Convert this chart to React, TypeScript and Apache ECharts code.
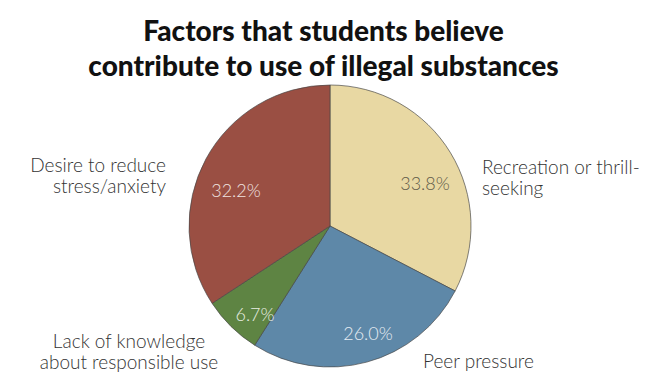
import React, { useEffect, useRef } from "react";
import * as echarts from "echarts";

const TITLE = "Factors that students believe\ncontribute to use of illegal substances";
const categories = [
  "Recreation or thrill-\nseeking",
  "Peer pressure",
  "Lack of knowledge\nabout responsible use",
  "Desire to reduce\nstress/anxiety",
];
// wedge sizes as drawn in the picture
const shares = [32.2, 26.0, 6.7, 33.8];
// percentages as printed on the wedges
const percentLabels = ["33.8%", "26.0%", "6.7%", "32.2%"];
const colors = ["#E8D8A3", "#5E88A8", "#5E8443", "#9A4F43"];
const percentColors = ["#5f5a48", "#e6ecf2", "#e8eee2", "#f0e4e0"];

const NAME_POS: [number, number, string][] = [
  [482, 177, "left"],
  [423, 360, "left"],
  [129, 351, "center"],
  [166, 175, "right"],
];
const PCT_POS: [number, number][] = [
  [425, 183],
  [368, 333],
  [255, 314],
  [236, 190],
];

export default function App() {
  const ref = useRef<HTMLDivElement>(null);
  useEffect(() => {
    document.body.style.margin = "0";
    const chart = echarts.init(ref.current!, undefined, { renderer: "svg" });
    const font = "Lato, 'Open Sans', sans-serif";
    chart.setOption({
      animation: false,
      backgroundColor: "#ffffff",
      title: {
        text: TITLE,
        left: "center",
        top: 7,
        textStyle: {
          fontFamily: font,
          fontSize: 28,
          fontWeight: 900,
          lineHeight: 35,
          color: "#111",
        },
      },
      series: [
        {
          type: "pie",
          center: [330, 226],
          radius: [0, 141],
          startAngle: 90,
          clockwise: true,
          silent: true,
          itemStyle: { borderColor: "rgba(70,70,70,0.85)", borderWidth: 0.8 },
          label: {
            show: true,
            position: "outside",
            fontFamily: font,
            fontSize: 19,
            fontWeight: 300,
            lineHeight: 21,
            color: "#333",
            overflow: "none",
            formatter: (p: any) => p.name,
          },
          labelLine: { show: false },
          labelLayout: (p: any) => {
            const q = NAME_POS[p.dataIndex];
            return { x: q[0], y: q[1], align: q[2], verticalAlign: "middle" };
          },
          data: categories.map((c, i) => ({
            name: c,
            value: shares[i],
            itemStyle: { color: colors[i] },
          })),
        },
        {
          type: "pie",
          center: [330, 226],
          radius: [0, 141],
          startAngle: 90,
          silent: true,
          itemStyle: { color: "rgba(0,0,0,0)", borderWidth: 0 },
          label: {
            show: true,
            position: "inside",
            fontFamily: font,
            fontSize: 18,
            fontWeight: 300,
            formatter: (p: any) => percentLabels[p.dataIndex],
          },
          labelLayout: (p: any) => {
            const q = PCT_POS[p.dataIndex];
            return { x: q[0], y: q[1], align: "center", verticalAlign: "middle" };
          },
          data: categories.map((c, i) => ({
            name: c,
            value: shares[i],
            label: { color: percentColors[i] },
          })),
        },
      ],
    });
    return () => chart.dispose();
  }, []);
  return <div ref={ref} style={{ width: 647, height: 374 }} />;
}
